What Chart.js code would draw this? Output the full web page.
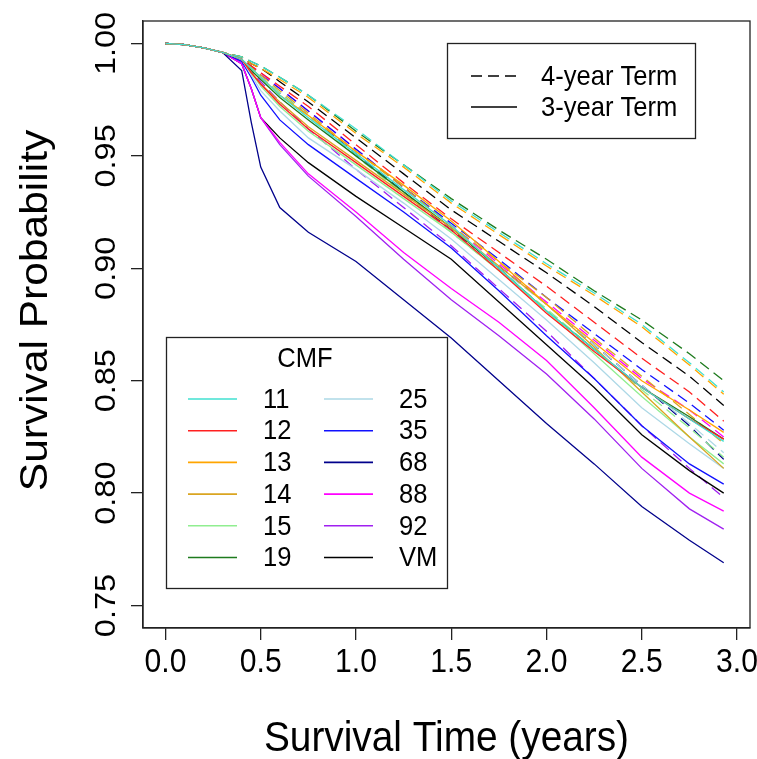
<!DOCTYPE html>
<html>
<head>
<meta charset="utf-8">
<script src="https://cdn.jsdelivr.net/npm/chart.js@4/dist/chart.umd.min.js"></script>
<style>
  body { margin: 0; background: #fff; }
  #wrap { width: 757px; height: 759px; position: relative; }
</style>
</head>
<body>
<div id="wrap"><canvas id="surv-chart"></canvas></div>
<script>
// survival time (years) at which the curves were read
const tempos = [0, 0.1, 0.2, 0.3, 0.4, 0.45, 0.5, 0.6, 0.75, 1.0, 1.25, 1.5, 1.75, 2.0, 2.25, 2.5, 2.75, 2.93]

const cmfs = ['11', '12', '13', '14', '15', '19', '25', '35', '68', '88', '92', 'VM']
const cores = ['#40E0D0', '#FF2020', '#FFA500', '#DAA520', '#90EE90', '#1E7B1E',
               '#ADD8E6', '#1010FF', '#00008B', '#FF00FF', '#A020F0', '#000000']

const xTicks = [0, 0.5, 1.0, 1.5, 2.0, 2.5, 3.0]
const yTicks = [0.75, 0.80, 0.85, 0.90, 0.95, 1.00]

// 4-year term (dashed)
const q11 = [1, .9995, .998, .996, .994, .992, .990, .985, .977, .962, .946, .930, .916, .902, .889, .875, .858, .845]
const q12 = [1, .9995, .998, .996, .993, .990, .987, .981, .972, .955, .938, .922, .907, .892, .876, .860, .845, .832]
const q13 = [1, .9995, .998, .996, .994, .991, .989, .984, .976, .960, .945, .929, .915, .901, .888, .874, .857, .844]
const q14 = [1, .9995, .998, .996, .993, .990, .986, .979, .969, .952, .936, .919, .903, .887, .869, .852, .835, .822]
const q15 = [1, .9995, .998, .996, .993, .989, .985, .978, .968, .950, .933, .916, .899, .882, .864, .846, .829, .816]
const q19 = [1, .9995, .998, .996, .994, .992, .990, .985, .977, .961, .946, .931, .917, .904, .890, .877, .862, .850]
const q25 = [1, .9995, .998, .996, .993, .989, .985, .978, .967, .950, .933, .916, .900, .884, .866, .848, .831, .818]
const q35 = [1, .9995, .998, .996, .993, .990, .986, .980, .970, .953, .936, .920, .904, .887, .871, .855, .840, .828]
const q68 = [1, .9995, .998, .996, .993, .989, .985, .978, .968, .951, .934, .917, .901, .884, .866, .848, .830, .815]
const q88 = [1, .9995, .998, .996, .993, .990, .987, .980, .970, .953, .936, .919, .902, .885, .868, .851, .837, .825]
const q92 = [1, .9995, .998, .996, .992, .988, .983, .974, .962, .944, .927, .910, .891, .872, .851, .830, .811, .798]
const qVM = [1, .9995, .998, .996, .994, .991, .989, .983, .974, .958, .942, .926, .912, .898, .883, .867, .852, .839]

// 3-year term (solid)
const t11 = [1, .9995, .998, .996, .993, .989, .985, .977, .967, .951, .935, .919, .900, .881, .864, .847, .833, .823]
const t12 = [1, .9995, .998, .996, .993, .987, .982, .973, .962, .947, .932, .917, .899, .880, .863, .847, .833, .824]
const t13 = [1, .9995, .998, .996, .993, .989, .985, .977, .968, .952, .937, .921, .903, .884, .867, .850, .837, .827]
const t14 = [1, .9995, .998, .996, .993, .987, .982, .974, .963, .948, .933, .918, .901, .884, .865, .845, .825, .811]
const t15 = [1, .9995, .998, .996, .993, .987, .981, .972, .961, .946, .931, .916, .899, .881, .862, .843, .825, .813]
const t19 = [1, .9995, .998, .996, .993, .988, .984, .976, .966, .950, .934, .918, .900, .881, .864, .847, .834, .824]
const t25 = [1, .9995, .998, .996, .993, .986, .979, .970, .958, .944, .929, .913, .895, .877, .858, .838, .822, .811]
const t35 = [1, .9995, .998, .996, .992, .985, .977, .966, .955, .940, .925, .909, .890, .870, .851, .830, .813, .804]
const t68 = [1, .9995, .998, .996, .988, .965, .945, .927, .916, .903, .886, .869, .850, .831, .813, .794, .779, .769]
const t88 = [1, .9995, .998, .996, .991, .980, .967, .956, .942, .925, .907, .891, .876, .859, .838, .816, .800, .792]
const t92 = [1, .9995, .998, .996, .991, .980, .967, .955, .941, .923, .904, .886, .870, .853, .833, .811, .793, .784]
const tVM = [1, .9995, .998, .996, .991, .980, .967, .958, .947, .932, .918, .904, .885, .866, .847, .826, .810, .800]

const quatroAnos = [q11, q12, q13, q14, q15, q19, q25, q35, q68, q88, q92, qVM]
const tresAnos = [t11, t12, t13, t14, t15, t19, t25, t35, t68, t88, t92, tVM]

const FONTE = '"Liberation Sans", Arial, sans-serif'
const DASH = [11, 6]
const APERTO = 0.913   // the original picture is a bit narrower than tall

const pontos = vals => tempos.map((t, i) => ({ x: t, y: vals[i] }))

const datasets = []
tresAnos.forEach((vals, i) => datasets.push({
    label: cmfs[i] + ' 3-year', data: pontos(vals),
    borderColor: cores[i], borderWidth: 1.3, pointRadius: 0, fill: false
}))
quatroAnos.forEach((vals, i) => datasets.push({
    label: cmfs[i] + ' 4-year', data: pontos(vals),
    borderColor: cores[i], borderWidth: 1.3, borderDash: DASH, pointRadius: 0, fill: false
}))

// text squeezed horizontally, optionally turned to read bottom-up
function texto(ctx, s, x, y, tam, vertical, align) {
    ctx.save()
    ctx.font = tam + 'px ' + FONTE
    ctx.textAlign = align || 'center'
    ctx.textBaseline = 'middle'
    ctx.translate(x, y)
    if (vertical) {
        ctx.rotate(-Math.PI / 2)
        ctx.scale(1, APERTO)
    } else {
        ctx.scale(APERTO, 1)
    }
    ctx.fillText(s, 0, 0)
    ctx.restore()
}

// R style frame, tick labels, titles and the two legends
const desenhoR = {
    id: 'desenhoR',
    afterDraw(chart) {
        const ctx = chart.ctx
        const { left, right, top, bottom } = chart.chartArea
        const xs = chart.scales.x, ys = chart.scales.y
        ctx.save()
        ctx.strokeStyle = '#222'
        ctx.lineWidth = 1.3
        ctx.strokeRect(left, top, right - left, bottom - top)

        ctx.fillStyle = '#000'
        xTicks.forEach(v => texto(ctx, v.toFixed(1), xs.getPixelForValue(v), bottom + 35, 33))
        yTicks.forEach(v => texto(ctx, v.toFixed(2), left - 36, ys.getPixelForValue(v), 32.5, true))

        texto(ctx, 'Survival Time (years)', (left + right) / 2, bottom + 111, 42.5)
        texto(ctx, 'Survival Probability', left - 107, (top + bottom) / 2 - 14, 42.5, true)

        // term legend
        ctx.strokeStyle = '#222'
        ctx.lineWidth = 1.3
        ctx.strokeRect(447.5, 43.5, 248, 95)
        ctx.strokeStyle = '#000'
        ctx.setLineDash(DASH)
        ctx.beginPath(); ctx.moveTo(471, 76); ctx.lineTo(517, 76); ctx.stroke()
        ctx.setLineDash([])
        ctx.beginPath(); ctx.moveTo(471, 107); ctx.lineTo(517, 107); ctx.stroke()
        texto(ctx, '4-year Term', 541, 77, 28, false, 'left')
        texto(ctx, '3-year Term', 541, 108, 28, false, 'left')

        // CMF legend
        ctx.strokeStyle = '#222'
        ctx.strokeRect(166.5, 337.5, 281, 251)
        texto(ctx, 'CMF', 305, 359, 28)
        cmfs.forEach((c, i) => {
            const col = Math.floor(i / 6), row = i % 6
            const x0 = col === 0 ? 188 : 324
            const y0 = 399 + row * 31.7
            ctx.strokeStyle = cores[i]
            ctx.lineWidth = 1.6
            ctx.beginPath(); ctx.moveTo(x0, y0); ctx.lineTo(x0 + 49, y0); ctx.stroke()
            texto(ctx, c, x0 + 75, y0 + 1, 28, false, 'left')
        })
        ctx.restore()
    }
}

new Chart(document.getElementById('surv-chart'), {
    type: 'line',
    data: { datasets: datasets },
    options: {
        responsive: true,
        maintainAspectRatio: false,
        animation: false,
        layout: { padding: { left: 131, right: 7, top: 21, bottom: 119 } },
        plugins: { legend: { display: false }, tooltip: { enabled: false } },
        elements: { line: { tension: 0 } },
        scales: {
            x: {
                type: 'linear', min: -0.118, max: 3.068,
                afterBuildTicks: s => { s.ticks = xTicks.map(v => ({ value: v })) },
                ticks: { display: false },
                grid: { drawOnChartArea: false, drawTicks: true, tickLength: 12, color: '#222', lineWidth: 1.3 },
                border: { display: true, color: '#222', width: 1.3 }
            },
            y: {
                type: 'linear', min: 0.74, max: 1.01,
                afterBuildTicks: s => { s.ticks = yTicks.map(v => ({ value: v })) },
                ticks: { display: false },
                grid: { drawOnChartArea: false, drawTicks: true, tickLength: 12, color: '#222', lineWidth: 1.3 },
                border: { display: true, color: '#222', width: 1.3 }
            }
        }
    },
    plugins: [desenhoR]
});
</script>
</body>
</html>
